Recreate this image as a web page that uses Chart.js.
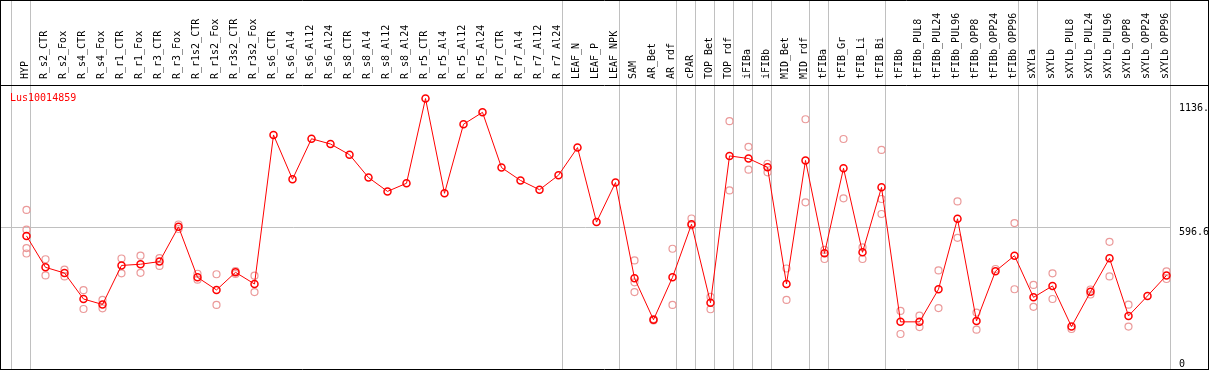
<!DOCTYPE html>
<html>
<head>
<meta charset="utf-8">
<script src="https://cdn.jsdelivr.net/npm/chart.js@4.4.1/dist/chart.umd.min.js"></script>
<style>
  html, body { margin: 0; padding: 0; overflow: hidden; background: #fff; }
  #wrap { width: 1209px; height: 370px; overflow: hidden; }
  canvas { display: block; }
</style>
</head>
<body>
<div id="wrap"><canvas id="c" width="1209" height="374"></canvas></div>
<script>
// ---- data ----
const geneName = "Lus10014859";
const categories = ["HYP","R_s2_CTR","R_s2_Fox","R_s4_CTR","R_s4_Fox","R_r1_CTR","R_r1_Fox","R_r3_CTR","R_r3_Fox","R_r1s2_CTR","R_r1s2_Fox","R_r3s2_CTR","R_r3s2_Fox","R_s6_CTR","R_s6_Al4","R_s6_Al12","R_s6_Al24","R_s8_CTR","R_s8_Al4","R_s8_Al12","R_s8_Al24","R_r5_CTR","R_r5_Al4","R_r5_Al12","R_r5_Al24","R_r7_CTR","R_r7_Al4","R_r7_Al12","R_r7_Al24","LEAF_N","LEAF_P","LEAF_NPK","SAM","AR_Bet","AR_rdf","cPAR","TOP_Bet","TOP_rdf","iFIBa","iFIBb","MID_Bet","MID_rdf","tFIBa","tFIB_Gr","tFIB_Li","tFIB_Bi","tFIBb","tFIBb_PUL8","tFIBb_PUL24","tFIBb_PUL96","tFIBb_OPP8","tFIBb_OPP24","tFIBb_OPP96","sXYLa","sXYLb","sXYLb_PUL8","sXYLb_PUL24","sXYLb_PUL96","sXYLb_OPP8","sXYLb_OPP24","sXYLb_OPP96"];
const meanValues = [559,427,403,294,271,435,440,451,597,385,332,406,357,983,797,967,945,900,804,746,780,1136,738,1028,1078,846,792,753,814,930,617,783,381,207,385,608,278,895,884,847,357,876,486,843,490,763,198,198,335,631,202,411,476,301,349,178,324,465,223,307,393];
const N = null;
const rep1 = [668,461,417,331,290,464,476,466,607,400,398,411,392,N,N,N,N,N,N,N,N,N,N,N,N,N,N,N,N,N,N,N,456,210,505,632,303,1041,933,862,422,1049,500,966,511,920,244,224,414,704,237,420,613,353,402,168,334,534,270,N,410];
const rep2 = [585,393,389,252,255,402,404,433,588,375,269,399,323,N,N,N,N,N,N,N,N,N,N,N,N,N,N,N,N,N,N,N,364,204,269,603,251,750,837,826,290,700,462,717,462,714,147,176,256,551,165,N,335,261,294,N,313,389,178,N,378];
const rep3 = [508,N,N,N,N,N,N,N,N,N,N,N,N,N,N,N,N,N,N,N,N,N,N,N,N,N,N,N,N,N,N,N,323,N,N,N,N,N,N,N,N,N,N,N,N,651,N,N,N,N,N,N,N,N,N,N,N,N,N,N,N];
const rep4 = [485,N,N,N,N,N,N,N,N,N,N,N,N,N,N,N,N,N,N,N,N,N,N,N,N,N,N,N,N,N,N,N,N,N,N,N,N,N,N,N,N,N,N,N,N,N,N,N,N,N,N,N,N,N,N,N,N,N,N,N,N];
const groupEnds = [-1,0,28,31,34,35,36,37,38,39,41,42,45,52,53,60]; // index of last category in each group
const yTickValues = [1136, 596.6, 0];
const yTickLabels = ["1136.", "596.6", "0"];
const gridValue = 596.6;
const yMax = 1136 * 1.05;

// ---- styles ----
const FONT = "'DejaVu Sans Mono', monospace";
const RED = '#ff0000';
const PINK = '#eb9a9a';
const GRAY = '#c0c0c0';

const repDs = (d) => ({
  data: d, showLine: false, clip: false,
  pointRadius: 3.5, pointHoverRadius: 3.5, pointBorderWidth: 1.2,
  pointBorderColor: PINK, pointBackgroundColor: 'rgba(0,0,0,0)',
  borderColor: PINK, backgroundColor: 'rgba(0,0,0,0)'
});

const framePlugin = {
  id: 'frame',
  beforeDatasetsDraw(chart) {
    const ctx = chart.ctx, x = chart.scales.x, y = chart.scales.y;
    ctx.save();
    ctx.strokeStyle = GRAY; ctx.lineWidth = 1;
    groupEnds.forEach(i => {
      const px = Math.round(x.getPixelForValue(i) + 3.5) + 0.5;
      ctx.beginPath(); ctx.moveTo(px, 0); ctx.lineTo(px, 369); ctx.stroke();
    });
    const gy = Math.round(y.getPixelForValue(gridValue)) + 0.5;
    const rightEdge = Math.round(x.getPixelForValue(categories.length - 1) + 3.5);
    ctx.beginPath(); ctx.moveTo(1, gy); ctx.lineTo(rightEdge, gy); ctx.stroke();
    ctx.restore();
  },
  afterDraw(chart) {
    const ctx = chart.ctx, y = chart.scales.y, x = chart.scales.x;
    ctx.save();
    ctx.strokeStyle = '#000'; ctx.lineWidth = 1;
    const W = chart.width;
    ctx.beginPath();
    ctx.moveTo(0, 0.5); ctx.lineTo(W, 0.5);
    ctx.moveTo(0, 85.5); ctx.lineTo(W, 85.5);
    ctx.moveTo(0, 369.5); ctx.lineTo(W, 369.5);
    ctx.moveTo(0.5, 0); ctx.lineTo(0.5, 370);
    ctx.moveTo(W - 0.5, 0); ctx.lineTo(W - 0.5, 370);
    ctx.stroke();
    ctx.font = '10px ' + FONT;
    ctx.textBaseline = 'alphabetic';
    ctx.textAlign = 'left';
    ctx.fillStyle = '#000';
    const labelX = Math.round(x.getPixelForValue(categories.length - 1) + 12.5);
    yTickValues.forEach((v, k) => {
      let by = y.getPixelForValue(v) + 8;
      by = Math.max(111, Math.min(367, by));
      ctx.fillText(yTickLabels[k], labelX, by);
    });
    ctx.fillStyle = RED;
    ctx.fillText(geneName, 10, 101);
    ctx.restore();
  }
};

new Chart(document.getElementById('c'), {
  type: 'line',
  data: {
    labels: categories,
    datasets: [
      {
        data: meanValues, clip: false,
        borderColor: RED, borderWidth: 1, tension: 0,
        pointRadius: 3.5, pointHoverRadius: 3.5, pointBorderWidth: 1.5,
        pointBorderColor: RED, pointBackgroundColor: 'rgba(0,0,0,0)',
        backgroundColor: 'rgba(0,0,0,0)', fill: false
      },
      repDs(rep1), repDs(rep2), repDs(rep3), repDs(rep4)
    ]
  },
  options: {
    responsive: false,
    animation: false,
    devicePixelRatio: 1,
    events: [],
    layout: { padding: { left: 26.5, right: 0, top: 0, bottom: 2 } },
    plugins: { legend: { display: false }, tooltip: { enabled: false }, title: { display: false } },
    scales: {
      x: {
        type: 'category', position: 'top', offset: false,
        grid: { display: false, drawTicks: false },
        border: { display: false },
        ticks: {
          autoSkip: false, minRotation: 90, maxRotation: 90, padding: 6, labelOffset: 11,
          color: '#000', font: { family: FONT, size: 10 }
        },
        afterFit(s) { s.height = 85; }
      },
      y: {
        position: 'right', min: 0, max: yMax,
        grid: { display: false }, border: { display: false },
        ticks: { display: false },
        afterFit(s) { s.width = 42.5; }
      }
    }
  },
  plugins: [framePlugin]
});
</script>
</body>
</html>
